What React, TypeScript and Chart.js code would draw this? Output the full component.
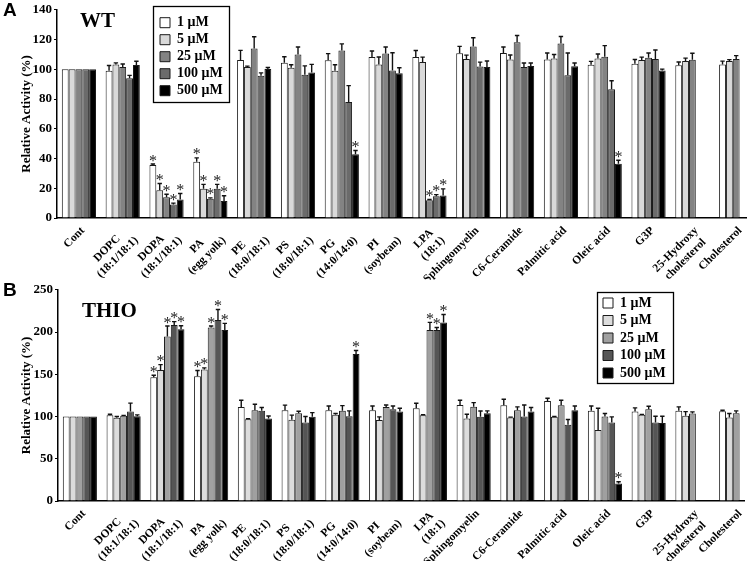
import React, { useEffect, useRef } from 'react';
import { Chart, registerables } from 'chart.js';

Chart.register(...registerables);

const SERIF = "'Liberation Serif', 'Times New Roman', Times, serif";
const SANS = "'Liberation Sans', Arial, Helvetica, sans-serif";

// ---------- categories & labels ----------
const categories: (string | string[])[] = [
  'Cont',
  ['DOPC', '(18:1/18:1)'],
  ['DOPA', '(18:1/18:1)'],
  ['PA', '(egg yolk)'],
  ['PE', '(18:0/18:1)'],
  ['PS', '(18:0/18:1)'],
  ['PG', '(14:0/14:0)'],
  ['PI', '(soybean)'],
  ['LPA', '(18:1)'],
  'Sphingomyelin',
  'C6-Ceramide',
  'Palmitic acid',
  'Oleic acid',
  'G3P',
  ['25-Hydroxy', 'cholesterol'],
  'Cholesterol',
];
const concentrations = ['1 μM', '5 μM', '25 μM', '100 μM', '500 μM'];
const yTitle = 'Relative Activity (%)';

// ---------- Panel A : WT ----------
const wt1 = [100, 99, 35.7, 37.9, 106.2, 104.4, 106, 108.3, 108.2, 110.8, 111, 106.6, 103.1, 103.8, 102.7, 103.3];
const wt1Err = [0, 3.5, 0.6, 2.5, 6.5, 4, 4.5, 4, 4.4, 4.6, 4, 4.4, 2.2, 2.8, 2.2, 2.2];
const wt5 = [100, 103.3, 18.7, 19.6, 101.6, 101.1, 99, 103.3, 104.9, 107, 106.6, 107.3, 107.3, 106.2, 105.5, 105.5];
const wt5Err = [0, 1, 4.5, 3, 0.5, 2, 4, 5, 3.3, 2.5, 3, 2.6, 3, 2, 2, 1];
const wt25 = [100, 101.6, 14, 13, 113.9, 110, 112.6, 110.6, 11.9, 115.4, 118.1, 117.4, 108.4, 107.7, 106.4, 107];
const wt25Err = [0, 2, 2, 0.5, 8, 5, 4.5, 4.4, 0.5, 5.8, 4.6, 4.6, 7.5, 3.3, 4.4, 2.2];
const wt100 = [100, 93.9, 9, 19.6, 95.6, 96.3, 78, 99.1, 14.7, 101.8, 101.6, 96, 86.6, 107, null, null];
const wt100Err = [0, 2, 1, 3, 2, 6, 11, 12, 1, 3, 2.6, 15, 5.7, 6, null, null];
const wt500 = [100, 102.9, 12.5, 11.5, 100.2, 97.8, 42.8, 97.4, 15.2, 101.6, 102.2, 102, 36.4, 99.1, null, null];
const wt500Err = [0, 2.5, 4, 3.5, 1, 5.5, 2.6, 3.6, 4.4, 4, 2, 2.2, 2.4, 1, null, null];
const wtSig1 = [2, 3];
const wtSig5 = [2, 3];
const wtSig25 = [2, 3, 8];
const wtSig100 = [2, 3, 8];
const wtSig500 = [2, 3, 6, 8, 12];
const wtColors = ['#ffffff', '#d9d9d9', '#838383', '#6b6b6b', '#000000'];

// ---------- Panel B : THIO ----------
const th1 = [100, 101.6, 146.5, 147.7, 111.4, 107.5, 107.5, 107.5, 109.8, 113.7, 113.4, 118.4, 106.7, 105.9, 106.7, 106.3];
const th1Err = [0, 1, 2.4, 6.7, 7.8, 6, 5, 5, 5.9, 5.5, 7, 3.2, 5.8, 4.3, 4.7, 1.2];
const th5 = [100, 98.5, 155.1, 155.6, 96.9, 96.1, 102, 95.8, 101.6, 97.7, 98.8, 99.6, 84, 102, 100.8, 98.8];
const th5Err = [0, 1.5, 6.3, 2, 0.5, 5.5, 1.5, 3.8, 0.5, 5, 0.5, 0.5, 25.8, 0.5, 5, 4.7];
const th25 = [100, 100.8, 194.6, 205.5, 107.5, 104, 106.7, 111.4, 202.4, 111.7, 107.5, 113.4, 100, 108.7, 103.5, 104];
const th25Err = [0, 0.5, 12.5, 1.6, 7, 2.3, 6.2, 2.3, 9, 4.7, 3.9, 5.8, 3.5, 3.5, 2, 2.7];
const th100 = [100, 105.9, 208.3, 214.2, 106.7, 93, 100.4, 108.7, 202.4, 99.6, 100, 90.3, 93, 93, null, null];
const th100Err = [0, 10, 4, 12.4, 4, 7, 6.3, 3.8, 3, 7, 13.7, 6.2, 6.6, 7.4, null, null];
const th500 = [100, 100.4, 203.2, 202.4, 97.7, 99.6, 173.9, 105.9, 211.4, 104, 105.9, 107.5, 20.7, 92.2, null, null];
const th500Err = [0, 1.5, 4.3, 7.8, 3, 5, 4.3, 3.9, 9.3, 2.7, 4.7, 5, 2, 8.2, null, null];
const thSig1 = [2, 3];
const thSig5 = [2, 3];
const thSig25 = [2, 3, 8];
const thSig100 = [2, 3, 8];
const thSig500 = [2, 3, 6, 8, 12];
const thColors = ['#ffffff', '#dcdcdc', '#a0a0a0', '#555555', '#000000'];

type Panel = {
  letter: string;
  title: string;
  yMax: number;
  yStep: number;
  series: (number | null)[][];
  errors: (number | null)[][];
  sig: number[][];
  colors: string[];
  height: number;
  padTop: number;
  padRight: number;
  yWidth: number;
  xHeight: number;
  valueRange: number;
  legendX: number;
  legendY: number;
  legendPad: number;
  frame: [number, number, number, number];
  titlePos: [number, number];
  letterPos: [number, number];
};

const panelA: Panel = {
  letter: 'A',
  title: 'WT',
  yMax: 140,
  yStep: 20,
  series: [wt1, wt5, wt25, wt100, wt500],
  errors: [wt1Err, wt5Err, wt25Err, wt100Err, wt500Err],
  sig: [wtSig1, wtSig5, wtSig25, wtSig100, wtSig500],
  colors: wtColors,
  height: 280,
  padTop: 6,
  padRight: 3,
  yWidth: 57,
  xHeight: 62,
  valueRange: 15.73,
  legendX: 157,
  legendY: 12.7,
  legendPad: 3,
  frame: [153.5, 6.5, 229.5, 102.5],
  titlePos: [80, 27],
  letterPos: [3, 16],
};

const panelB: Panel = {
  letter: 'B',
  title: 'THIO',
  yMax: 250,
  yStep: 50,
  series: [th1, th5, th25, th100, th500],
  errors: [th1Err, th5Err, th25Err, th100Err, th500Err],
  sig: [thSig1, thSig5, thSig25, thSig100, thSig500],
  colors: thColors,
  height: 281,
  padTop: 8,
  padRight: 4,
  yWidth: 58,
  xHeight: 60,
  valueRange: 15.68,
  legendX: 599.5,
  legendY: 12.5,
  legendPad: 3.5,
  frame: [597.5, 12.5, 673.5, 103.5],
  titlePos: [82, 37],
  letterPos: [3, 16],
};

const X_FONT_SIZE = 11.5;
const X_FONT_CSS = `bold ${X_FONT_SIZE}px ${SERIF}`;

// Center the lines of a multi-line rotated label (Chart.js right-aligns them).
let measureCtx: CanvasRenderingContext2D | null = null;
function centerLines(lines: string[]): string[] {
  if (!measureCtx) measureCtx = document.createElement('canvas').getContext('2d');
  const m = measureCtx as CanvasRenderingContext2D;
  m.font = X_FONT_CSS;
  const widths = lines.map((l) => m.measureText(l).width);
  const maxW = Math.max(...widths);
  const sp = m.measureText(' ').width || 3;
  return lines.map((l, i) => l + ' '.repeat(Math.max(0, Math.round((maxW - widths[i]) / 2 / sp))));
}

const errorBarPlugin = {
  id: 'errorBars',
  afterDatasetsDraw(chart: any) {
    const { ctx } = chart;
    const yScale = chart.scales.y;
    chart.data.datasets.forEach((ds: any, i: number) => {
      const meta = chart.getDatasetMeta(i);
      meta.data.forEach((bar: any, j: number) => {
        const v = ds.data[j];
        if (v == null) return;
        const e = ds.errors[j] || 0;
        const yTop = yScale.getPixelForValue(v + e);
        ctx.save();
        if (e > 0) {
          ctx.strokeStyle = '#111';
          ctx.lineWidth = 1.4;
          ctx.beginPath();
          ctx.moveTo(bar.x, bar.y);
          ctx.lineTo(bar.x, yTop);
          ctx.moveTo(bar.x - 2.2, yTop);
          ctx.lineTo(bar.x + 2.2, yTop);
          ctx.stroke();
        }
        if (ds.sig.includes(j)) {
          ctx.fillStyle = '#222';
          ctx.font = `16px ${SERIF}`;
          ctx.textAlign = 'center';
          ctx.textBaseline = 'alphabetic';
          ctx.fillText('*', bar.x, yTop + 1.5);
        }
        ctx.restore();
      });
    });
  },
};

function decorPlugin(p: Panel) {
  return {
    id: 'panelDecor',
    afterUpdate(chart: any) {
      const lg = chart.legend;
      if (!lg) return;
      const w = lg.width;
      lg.left = p.legendX;
      lg.top = p.legendY;
      lg.right = p.legendX + w;
      lg.bottom = p.legendY + chart.chartArea.height;
    },
    afterDraw(chart: any) {
      const { ctx } = chart;
      ctx.save();
      const [x1, y1, x2, y2] = p.frame;
      ctx.strokeStyle = '#000';
      ctx.lineWidth = 1.3;
      ctx.strokeRect(x1, y1, x2 - x1, y2 - y1);
      ctx.fillStyle = '#000';
      ctx.textAlign = 'left';
      ctx.textBaseline = 'alphabetic';
      ctx.font = `bold 21px ${SERIF}`;
      ctx.fillText(p.title, p.titlePos[0], p.titlePos[1]);
      ctx.font = `bold 19px ${SANS}`;
      ctx.fillText(p.letter, p.letterPos[0], p.letterPos[1]);
      ctx.restore();
    },
  };
}

function buildChart(canvas: HTMLCanvasElement, p: Panel) {
  const datasets = concentrations.map((c, k) => ({
    label: c,
    data: p.series[k],
    errors: p.errors[k],
    sig: p.sig[k],
    backgroundColor: p.colors[k],
    borderColor: '#1a1a1a',
    borderWidth: 1,
    barPercentage: 1,
    categoryPercentage: 0.78,
  }));
  return new Chart(canvas, {
    type: 'bar',
    data: { labels: categories as any, datasets: datasets as any },
    options: {
      responsive: false,
      animation: false,
      layout: { padding: { top: p.padTop, right: p.padRight, left: 0, bottom: 0 } },
      plugins: {
        legend: {
          position: 'chartArea' as any,
          align: 'start',
          fullSize: false,
          labels: {
            boxWidth: 10,
            boxHeight: 10,
            padding: p.legendPad,
            color: '#000',
            font: { family: SERIF, size: 14, weight: 'bold' },
          },
        },
        tooltip: { enabled: false },
      },
      scales: {
        x: {
          offset: true,
          grid: { display: true, drawOnChartArea: false, drawTicks: false, offset: true },
          border: { display: true, color: '#000', width: 1.5 },
          ticks: {
            autoSkip: false,
            maxRotation: 45,
            minRotation: 45,
            padding: 6,
            labelOffset: 4,
            color: '#000',
            font: { family: SERIF, size: X_FONT_SIZE, weight: 'bold' },
            callback: (_v: any, i: number) => {
              const l = categories[i];
              return Array.isArray(l) ? centerLines(l) : l;
            },
          },
          afterBuildTicks: (s: any) => {
            s._valueRange = p.valueRange;
          },
          afterFit: (s: any) => {
            s.height = p.xHeight;
          },
        },
        y: {
          min: 0,
          max: p.yMax,
          ticks: {
            stepSize: p.yStep,
            padding: 2,
            color: '#000',
            font: { family: SERIF, size: 13, weight: 'bold' },
          },
          grid: { drawOnChartArea: false, tickLength: 3, color: '#000' },
          border: { color: '#000', width: 1.5 },
          title: {
            display: true,
            text: yTitle,
            color: '#000',
            font: { family: SERIF, size: 13, weight: 'bold' },
            padding: { top: 19, bottom: 0 },
          },
          afterFit: (s: any) => {
            s.width = p.yWidth;
          },
        },
      },
    } as any,
    plugins: [errorBarPlugin, decorPlugin(p)],
  });
}

function PanelChart({ panel }: { panel: Panel }) {
  const ref = useRef<HTMLCanvasElement | null>(null);
  useEffect(() => {
    if (!ref.current) return;
    const chart = buildChart(ref.current, panel);
    return () => chart.destroy();
  }, [panel]);
  return <canvas ref={ref} width={752} height={panel.height} style={{ display: 'block', width: 752, height: panel.height }} />;
}

export default function App() {
  return (
    <div style={{ position: 'absolute', left: 0, top: 0, width: 752, height: 561, background: '#fff' }}>
      <PanelChart panel={panelA} />
      <PanelChart panel={panelB} />
    </div>
  );
}
